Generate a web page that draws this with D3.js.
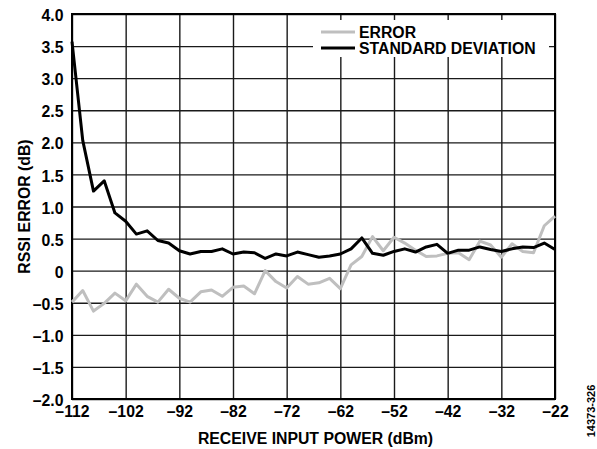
<!DOCTYPE html>
<html>
<head>
<meta charset="utf-8">
<script src="https://cdn.jsdelivr.net/npm/d3@7"></script>
<style>
  html, body { margin: 0; padding: 0; background: #fff; }
  svg { display: block; }
  text { font-family: "Liberation Sans", Arial, sans-serif; font-weight: bold; fill: #000; }
</style>
</head>
<body>
<svg id="chart" width="597" height="449"></svg>
<script>
// ---- data ----
const powerDbm = [-112,-110,-108,-106,-104,-102,-100,-98,-96,-94,-92,-90,-88,-86,-84,-82,-80,-78,-76,-74,-72,-70,-68,-66,-64,-62,-60,-58,-56,-54,-52,-50,-48,-46,-44,-42,-40,-38,-36,-34,-32,-30,-28,-26,-24,-22];
const errorDb = [-0.49,-0.31,-0.63,-0.51,-0.35,-0.47,-0.21,-0.40,-0.49,-0.29,-0.43,-0.49,-0.33,-0.30,-0.40,-0.26,-0.24,-0.36,0.00,-0.17,-0.27,-0.09,-0.21,-0.19,-0.12,-0.28,0.09,0.22,0.53,0.31,0.52,0.43,0.32,0.22,0.23,0.27,0.28,0.17,0.46,0.40,0.21,0.42,0.30,0.28,0.70,0.85];
const stdDevDb = [3.57,2.03,1.24,1.40,0.90,0.77,0.57,0.62,0.47,0.43,0.31,0.26,0.30,0.30,0.34,0.26,0.29,0.28,0.19,0.26,0.23,0.29,0.25,0.21,0.23,0.26,0.34,0.51,0.27,0.24,0.30,0.34,0.29,0.37,0.41,0.27,0.32,0.32,0.37,0.33,0.30,0.34,0.37,0.36,0.43,0.33];
const xTickValues = [-112,-102,-92,-82,-72,-62,-52,-42,-32,-22];
const yTickValues = [-2,-1.5,-1,-0.5,0,0.5,1,1.5,2,2.5,3,3.5,4];
const seriesNames = ["ERROR", "STANDARD DEVIATION"];
const xTitle = "RECEIVE INPUT POWER (dBm)";
const yTitle = "RSSI ERROR (dB)";
const figureId = "14373-326";

// ---- layout ----
const L = 72, R = 555, T = 14, B = 399;
const FS = 15.8;
const svg = d3.select("#chart");
const x = d3.scaleLinear().domain([-112, -22]).range([L, R]);
const y = d3.scaleLinear().domain([-2, 4]).range([B, T]);

const fmtNum = v => (v === 0 ? "0" : (v < 0 ? "\u2013" : "") + d3.format(".1f")(Math.abs(v)));
const fmtX = v => (v < 0 ? "\u2013" : "") + Math.abs(v);

// grid + axes
const gx = svg.append("g").attr("transform", `translate(0,${B})`)
  .call(d3.axisBottom(x).tickValues(xTickValues).tickSize(-(B - T)).tickPadding(6.5).tickFormat(fmtX));
const gy = svg.append("g").attr("transform", `translate(${L},0)`)
  .call(d3.axisLeft(y).tickValues(yTickValues).tickSize(-(R - L)).tickPadding(8.5).tickFormat(fmtNum));
[gx, gy].forEach(g => {
  g.select(".domain").remove();
  g.selectAll(".tick line").attr("stroke", "#1a1a1a").attr("stroke-width", 1.4);
  g.selectAll(".tick text").attr("font-family", "Liberation Sans, Arial, sans-serif").attr("font-weight", "bold")
    .attr("font-size", FS).attr("fill", "#000");
});
gy.selectAll(".tick text").attr("dy", "0.42em");

// frame
svg.append("rect").attr("x", L).attr("y", T).attr("width", R - L).attr("height", B - T)
  .attr("fill", "none").attr("stroke", "#000").attr("stroke-width", 2);

// legend background (covers grid)
svg.append("rect").attr("x", 313).attr("y", 20).attr("width", 236).attr("height", 37).attr("fill", "#fff");

// lines
const line = vals => d3.line().x((d, i) => x(powerDbm[i])).y(d => y(d))(vals);
svg.append("path").attr("d", line(errorDb)).attr("fill", "none")
  .attr("stroke", "#bfbfbf").attr("stroke-width", 3).attr("stroke-linejoin", "round");
svg.append("path").attr("d", line(stdDevDb)).attr("fill", "none")
  .attr("stroke", "#000").attr("stroke-width", 3).attr("stroke-linejoin", "round");

// legend
const legColors = ["#bfbfbf", "#000"];
const leg = svg.append("g");
seriesNames.forEach((name, i) => {
  const cy = 32 + i * 16;
  leg.append("line").attr("x1", 321).attr("x2", 355).attr("y1", cy).attr("y2", cy)
    .attr("stroke", legColors[i]).attr("stroke-width", 3);
  leg.append("text").attr("x", 359).attr("y", cy + 5.6).attr("font-size", FS).text(name);
});

// titles
svg.append("text").attr("x", (L + R) / 2 + 2).attr("y", 444).attr("text-anchor", "middle")
  .attr("font-size", FS).text(xTitle);
svg.append("text").attr("transform", `translate(29.5,${(T + B) / 2}) rotate(-90)`)
  .attr("text-anchor", "middle").attr("font-size", FS).text(yTitle);
svg.append("text").attr("transform", "translate(595,411) rotate(-90)")
  .attr("text-anchor", "middle").attr("font-size", 11).attr("font-weight", "normal").text(figureId);
</script>
</body>
</html>
